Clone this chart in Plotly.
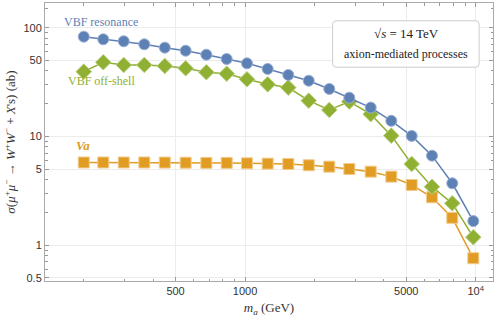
import plotly.graph_objects as go

# masses (GeV)
m_a = [200, 243, 298, 366, 449, 553, 680, 833, 1020, 1254,
       1540, 1889, 2319, 2833, 3506, 4307, 5279, 6466, 7916, 9763]

# cross sections (ab)
vbf_res = [82.6, 78.2, 75.0, 70.3, 65.5, 61.4, 56.4, 51.5, 47.0, 41.7,
           36.7, 32.5, 27.3, 22.7, 18.4, 13.9, 10.1, 6.64, 3.70, 1.66]
vbf_off = [39.4, 48.0, 45.4, 45.4, 44.4, 42.3, 38.9, 37.7, 33.5, 30.1,
           28.1, 21.3, 17.5, 20.9, 16.0, 10.15, 5.57, 3.44, 2.42, 1.18]
va = [5.75, 5.75, 5.75, 5.75, 5.74, 5.72, 5.70, 5.70, 5.65, 5.61,
      5.57, 5.42, 5.26, 5.01, 4.73, 4.26, 3.57, 2.75, 1.78, 0.756]

x_ticks = [500, 1000, 5000, 10000]
x_ticktext = ['500', '1000', '5000', '10<sup>4</sup>']
y_ticks = [0.5, 1, 5, 10, 50, 100]
y_ticktext = ['0.5', '1', '5', '10', '50', '100']
x_minor = [200, 300, 400, 600, 700, 800, 900, 2000, 3000, 4000, 6000, 7000, 8000, 9000]
y_minor = [0.6, 0.7, 0.8, 0.9, 2, 3, 4, 6, 7, 8, 9, 20, 30, 40, 60, 70, 80, 90, 150]

BLUE = '#5E81B5'
ORANGE = '#E19C24'
GREEN = '#8FB032'

fig = go.Figure()

fig.add_trace(go.Scatter(
    x=m_a, y=va, mode='lines+markers',
    line=dict(color=ORANGE, width=1.5),
    marker=dict(symbol='square', size=11, color=ORANGE, line=dict(color='#F2CB8C', width=1))
))
fig.add_trace(go.Scatter(
    x=m_a, y=vbf_off, mode='lines+markers',
    line=dict(color=GREEN, width=1.5),
    marker=dict(symbol='diamond', size=12, color=GREEN, line=dict(color='#BCD285', width=1))
))
fig.add_trace(go.Scatter(
    x=m_a, y=vbf_res, mode='lines+markers',
    line=dict(color=BLUE, width=1.5),
    marker=dict(symbol='circle', size=11, color=BLUE, line=dict(color='#9AB0D2', width=1))
))

serif = 'Liberation Serif'
sans = 'Liberation Sans'

axis_common = dict(
    type='log', showline=True, linecolor='#aaaaaa', linewidth=1, mirror='allticks',
    ticks='inside', ticklen=4, tickcolor='#999999', automargin=False,
    showgrid=True, gridcolor='#ececec', gridwidth=1, zeroline=False,
    tickfont=dict(family=sans, size=11, color='#333333'),
)

fig.update_xaxes(
    range=[2.133, 4.075], tickmode='array', tickvals=x_ticks, ticktext=x_ticktext,
    minor=dict(tickmode='array', tickvals=x_minor, ticks='inside', ticklen=2.5,
               tickcolor='#999999', showgrid=False),
    title=dict(text='<i>m<sub>a</sub></i> (GeV)', font=dict(family=serif, size=13, color='#333333'),
               standoff=6),
    **axis_common
)
fig.update_yaxes(
    range=[-0.331, 2.227], tickmode='array', tickvals=y_ticks, ticktext=y_ticktext,
    minor=dict(tickmode='array', tickvals=y_minor, ticks='inside', ticklen=2.5,
               tickcolor='#999999', showgrid=False),
    title=dict(text='<i>σ</i>(<i>μ</i><sup>+</sup><i>μ</i><sup>−</sup> → <i>W</i><sup>+</sup><i>W</i><sup>−</sup> + <i>X</i>\'s) (ab)',
               font=dict(family=serif, size=13, color='#333333'), standoff=4),
    **axis_common
)

# rounded legend box
x0, x1, y0, y1 = 0.642, 0.969, 0.769, 0.936
rx, ry = 0.009, 0.0145
path = (f'M {x0+rx},{y0} L {x1-rx},{y0} Q {x1},{y0} {x1},{y0+ry} '
        f'L {x1},{y1-ry} Q {x1},{y1} {x1-rx},{y1} L {x0+rx},{y1} '
        f'Q {x0},{y1} {x0},{y1-ry} L {x0},{y0+ry} Q {x0},{y0} {x0+rx},{y0} Z')
fig.add_shape(type='path', path=path, xref='paper', yref='paper',
              line=dict(color='#cccccc', width=1), fillcolor='white', layer='above')

labels = [
    (0.806, 0.891, '√<i>s</i> = 14 TeV', 13, '#222222'),
    (0.806, 0.817, 'axion-mediated processes', 12, '#222222'),
    (0.125, 0.933, 'VBF resonance', 12, BLUE),
    (0.125, 0.719, 'VBF off-shell', 12, GREEN),
    (0.085, 0.487, '<b><i>Va</i></b>', 13, ORANGE),
]
for lx, ly, txt, sz, col in labels:
    fig.add_annotation(x=lx, y=ly, xref='paper', yref='paper', showarrow=False,
                       xanchor='center', yanchor='middle', text=txt,
                       font=dict(family=serif, size=sz, color=col))

fig.update_layout(
    width=498, height=323,
    margin=dict(l=45, r=5, t=3, b=42),
    plot_bgcolor='white', paper_bgcolor='white',
    showlegend=False,
)

# drop the default page margin so the figure sits at the window corner
fig.write_html('out.html', config={'displayModeBar': False},
               post_script="document.body.style.margin='0';")
